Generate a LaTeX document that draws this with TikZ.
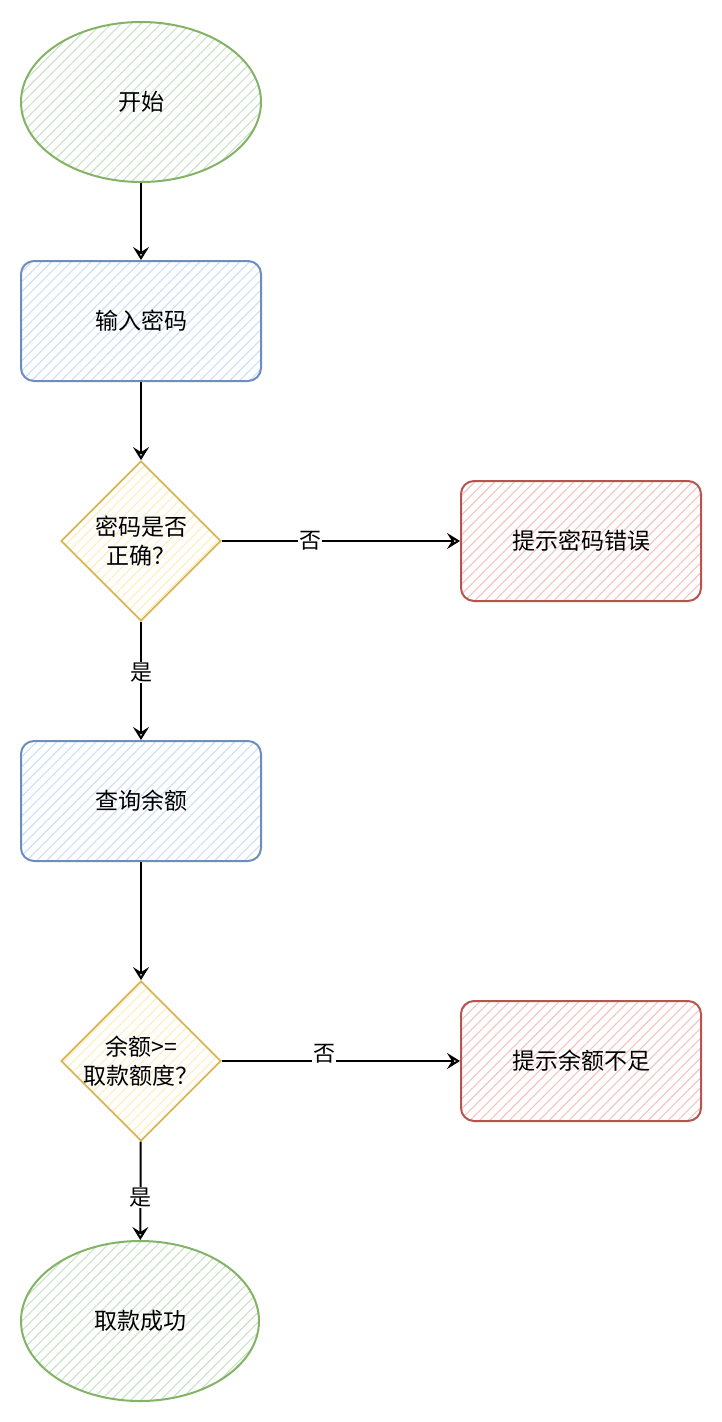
\documentclass[tikz,border=0pt]{standalone}
\usepackage{fontspec}
\setmainfont{Noto Sans CJK SC}
\usetikzlibrary{shapes.geometric,arrows.meta,patterns.meta}
\definecolor{gfill}{HTML}{C9E2C7}\definecolor{gline}{HTML}{82B366}
\definecolor{bfill}{HTML}{CADFFB}\definecolor{bline}{HTML}{6C8EBF}
\definecolor{yfill}{HTML}{FFEDBF}\definecolor{yline}{HTML}{D6B656}
\definecolor{rfill}{HTML}{F6C2C0}\definecolor{rline}{HTML}{B85450}
\tikzset{
	hatch/.style={pattern={Lines[angle=45,distance=7pt,line width=1.1pt]},pattern color=#1},
	term/.style={ellipse,draw=gline,line width=2pt,hatch=gfill,minimum width=240pt,minimum height=160pt,inner sep=0pt},
	proc/.style={rectangle,rounded corners=13pt,draw=bline,line width=2pt,hatch=bfill,minimum width=240pt,minimum height=120pt},
	warn/.style={proc,draw=rline,hatch=rfill},
	dec/.style={diamond,aspect=1,draw=yline,line width=1.8pt,hatch=yfill,minimum width=160pt,minimum height=160pt,inner sep=0pt},
	flow/.style={-{Stealth[open,length=13pt,width=16pt,inset=5pt]},line width=2pt},
	lbl/.style={fill=white,inner sep=1pt,font=\fontsize{22}{24}\selectfont},
}
\begin{document}
\begin{tikzpicture}[x=1pt,y=-1pt,font=\fontsize{23}{29}\selectfont]
			\useasboundingbox (0,0) rectangle (722,1422);
			\node[term] (start) at (141,102) {开始};
			\node[proc] (input) at (141,321) {输入密码};
			\node[dec,label={[align=center]center:密码是否\\正确？}] (check) at (141,541) {};
			\node[warn] (pwerr) at (581,541) {提示密码错误};
			\node[proc] (query) at (141,801) {查询余额};
			\node[dec,label={[align=center]center:余额>=\\取款额度？}] (enough) at (141,1061) {};
			\node[warn] (lack) at (581,1061) {提示余额不足};
			\node[term,minimum width=238pt] (done) at (140,1321) {取款成功};
			\draw[flow] (start)--(input);
			\draw[flow] (input)--(check);
			\draw[flow] (check)--node[lbl,pos=.37]{否}(pwerr);
			\draw[flow] (check)--node[lbl,pos=.43]{是}(query);
			\draw[flow] (query)--(enough);
			\draw[flow] (enough)--node[lbl,pos=.43,yshift=7pt]{否}(lack);
			\draw[flow] (enough)--node[lbl,pos=.57]{是}(done);
		\end{tikzpicture}
\end{document}
